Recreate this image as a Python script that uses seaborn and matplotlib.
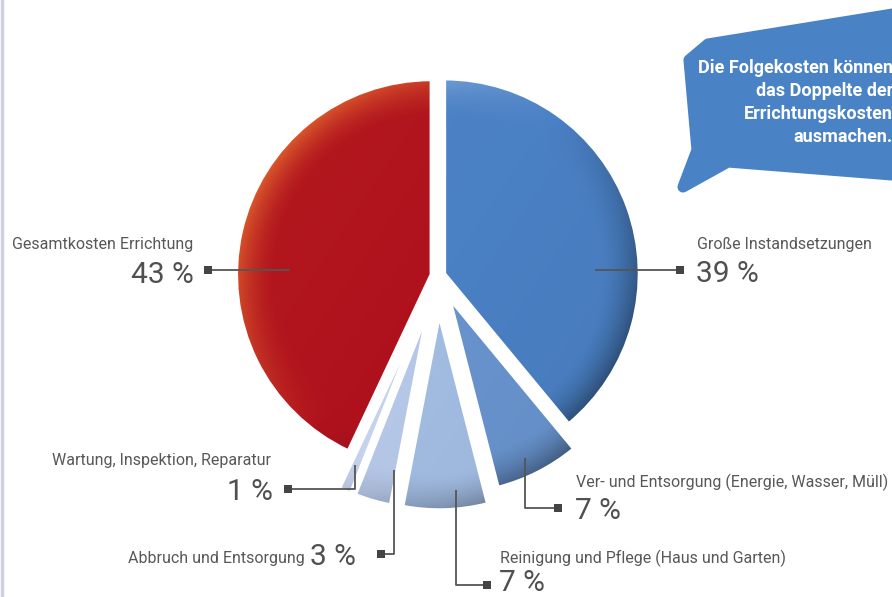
import numpy as np
import matplotlib
matplotlib.use("Agg")
import matplotlib.pyplot as plt
import seaborn as sns
from matplotlib.colors import to_rgb
from matplotlib.patches import Polygon, PathPatch

# ---------------- data ----------------
categories = [
    "Große Instandsetzungen",
    "Ver- und Entsorgung (Energie, Wasser, Müll)",
    "Reinigung und Pflege (Haus und Garten)",
    "Abbruch und Entsorgung",
    "Wartung, Inspektion, Reparatur",
    "Gesamtkosten Errichtung",
]
values = [39, 7, 7, 3, 1, 43]
pct_labels = ["39 %", "7 %", "7 %", "3 %", "1 %", "43 %"]
bubble_lines = ["Die Folgekosten können", "das Doppelte der",
                "Errichtungskosten", "ausmachen."]

# ---------------- style ----------------
colors = ["#4a80c4", "#6893cd", "#a2bce2", "#b6c8e8", "#c6d3ec", "#b0121d"]
rim_light = ["#8fb3e3", "#a3bfe6", "#dce6f5", "#e3eaf6", "#e8eef8", "#e0642e"]
explode_frac = [0.035, 0.13, 0.2, 0.2, 0.2, 0.035]

sns.set_theme(style="white")
plt.rcParams['font.family'] = ['Roboto', 'DejaVu Sans']

W, H = 892, 597
fig = plt.figure(figsize=(W / 100, H / 100), dpi=100)
ax = fig.add_axes([0, 0, 1, 1])


def Y(y):
    return H - y


cx, cy, R = 438, Y(276), 195
explode = [e * R for e in explode_frac]
wedges, _ = ax.pie(values, colors=colors, explode=explode, startangle=90,
                   counterclock=False, radius=R, center=(cx, cy), frame=True,
                   wedgeprops=dict(edgecolor="white", linewidth=2.5))

# 3D-like shading clipped to each wedge
xs = np.arange(W) + 0.5
ys = np.arange(H) + 0.5
XX, YY = np.meshgrid(xs, ys)
for w, col, rl in zip(wedges, colors, rim_light):
    wcx, wcy = w.center
    u = (XX - wcx) / R
    v = (YY - wcy) / R
    rho = np.hypot(u, v)
    nx = u / np.maximum(rho, 1e-6)
    ny = v / np.maximum(rho, 1e-6)
    light = -0.75 * nx + 0.55 * ny
    rim = np.clip((rho - 0.80) / 0.20, 0, 1) ** 1.6
    shade = 0.10 * (-u * 0.6 + v * 0.4) + rim * light * 0.9
    base = np.array(to_rgb(col))
    lt = np.array(to_rgb(rl))
    pos = np.clip(shade, 0, 1)[..., None]
    neg = np.clip(-shade, 0, 1)[..., None]
    img = base + (lt - base) * pos
    img = img * (1 - 0.45 * neg)
    img = np.clip(img, 0, 1)
    im = ax.imshow(img, extent=(0, W, 0, H), origin="lower", zorder=2,
                   interpolation="bilinear")
    im.set_clip_path(w)
    ax.add_patch(PathPatch(w.get_path(), fc="none", ec="white", lw=2.5,
                           zorder=3))

# ---------------- leaders & labels ----------------
lc = "#555555"
tc = "#585858"
pc = "#505050"
lab_fs = 11.5
pct_fs = 21.5


def leader(pts, sq):
    xs_ = [p[0] for p in pts]
    ys_ = [Y(p[1]) for p in pts]
    ax.plot(xs_, ys_, color=lc, lw=1.3, zorder=4, solid_capstyle="butt")
    ax.plot([sq[0]], [Y(sq[1])], marker="s", ms=5.5, color="#444444",
            zorder=5, mew=0)


def pct(x, y, s, ha="left"):
    ax.text(x, Y(y), s, fontsize=pct_fs, color=pc, fontweight="normal",
            ha=ha, va="baseline")


# Gesamtkosten Errichtung (left)
leader([(290, 270), (208, 270)], (208, 270))
ax.text(12, Y(249), categories[5], fontsize=lab_fs, color=tc, va="baseline")
pct(194, 283, pct_labels[5], ha="right")

# Große Instandsetzungen (right)
leader([(595, 270), (680, 270)], (680, 270))
ax.text(697, Y(249), categories[0], fontsize=lab_fs, color=tc, va="baseline")
pct(696, 282, pct_labels[0])

# Ver- und Entsorgung
leader([(525, 458), (525, 508), (558, 508)], (558, 508))
ax.text(576, Y(487), categories[1], fontsize=lab_fs, color=tc, va="baseline")
pct(575, 519, pct_labels[1])

# Reinigung und Pflege
leader([(456, 490), (456, 585), (487, 585)], (487, 585))
ax.text(500, Y(563), categories[2], fontsize=lab_fs, color=tc, va="baseline")
pct(499, 591, pct_labels[2])

# Abbruch und Entsorgung
leader([(394, 470), (394, 554), (381, 554)], (381, 554))
ax.text(305, Y(563), categories[3], fontsize=lab_fs, color=tc, va="baseline",
        ha="right")
pct(310, 565, pct_labels[3])

# Wartung, Inspektion, Reparatur
leader([(355, 465), (355, 489), (288, 489)], (288, 489))
ax.text(52, Y(465), categories[4], fontsize=lab_fs, color=tc, va="baseline")
pct(273, 500, pct_labels[4], ha="right")

# ---------------- speech bubble ----------------
bub = [(708, 44), (905, 12), (905, 176), (728, 162), (683, 187),
       (697, 150), (689, 60)]
ax.add_patch(Polygon([(x, Y(y)) for x, y in bub], closed=True,
                     fc="#4a82c6", ec="#4a82c6", lw=8, joinstyle="round",
                     zorder=6))
for i, line in enumerate(bubble_lines):
    ax.text(893, Y(73 + i * 23), line, fontsize=13, color="white",
            fontweight="bold", ha="right", va="baseline", zorder=7)

# left border
ax.plot([2, 2], [0, H], color="#cfd0e3", lw=2.5, zorder=8)

ax.set_xlim(0, W)
ax.set_ylim(0, H)
ax.set_aspect("equal")
ax.axis("off")
fig.savefig("out.png", dpi=100, facecolor="white")
